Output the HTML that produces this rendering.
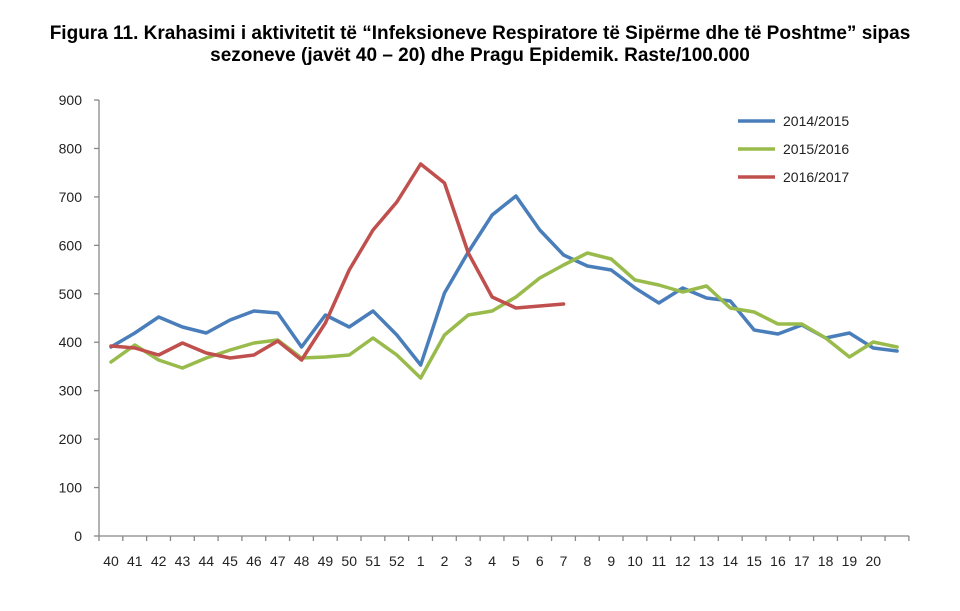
<!DOCTYPE html>
<html><head><meta charset="utf-8"><style>
body{margin:0;background:#fff;width:960px;height:606px;overflow:hidden}
svg text{font-family:"Liberation Sans",sans-serif}
</style></head><body>
<svg width="960" height="606" viewBox="0 0 960 606">
<text x="480" y="39" text-anchor="middle" font-size="19" font-weight="bold" fill="#000">Figura 11. Krahasimi i aktivitetit të “Infeksioneve Respiratore të Sipërme dhe të Poshtme” sipas</text>
<text x="480" y="61" text-anchor="middle" font-size="19" font-weight="bold" fill="#000">sezoneve (javët 40 – 20) dhe Pragu Epidemik.  Raste/100.000</text>
<g stroke="#888" stroke-width="1.3" fill="none">
<line x1="99" y1="100" x2="99" y2="536"/>
<line x1="99" y1="536" x2="909" y2="536"/>
</g>
<g stroke="#888" stroke-width="1.3" id="yt"></g>
<g stroke="#888" stroke-width="1.3" id="xt"></g>
<g font-size="14" fill="#222" text-anchor="end" id="yl"></g>
<g font-size="14" fill="#222" text-anchor="middle" id="xl"></g>
<g fill="none" stroke-width="3.5" stroke-linejoin="round" stroke-linecap="round">
<polyline id="b" stroke="#4a7ebb"/>
<polyline id="g" stroke="#98bb4c"/>
<polyline id="r" stroke="#c0504d"/>
</g>
<g stroke-width="3.5">
<line x1="738" y1="121" x2="775" y2="121" stroke="#4a7ebb"/>
<line x1="738" y1="149" x2="775" y2="149" stroke="#98bb4c"/>
<line x1="738" y1="177" x2="775" y2="177" stroke="#c0504d"/>
</g>
<g font-size="14" fill="#222">
<text x="783" y="126">2014/2015</text>
<text x="783" y="154">2015/2016</text>
<text x="783" y="182">2016/2017</text>
</g>
</svg>
<script>
var NS="http://www.w3.org/2000/svg";
function el(p,t,a,txt){var e=document.createElementNS(NS,t);for(var k in a)e.setAttribute(k,a[k]);if(txt!=null)e.textContent=txt;document.getElementById(p).appendChild(e);}
for(var v=0;v<=900;v+=100){var y=536-v*0.4844;el("yt","line",{x1:94,y1:y,x2:99,y2:y});el("yl","text",{x:82,y:y+5},v);}
var labs=[];for(var i=40;i<=52;i++)labs.push(i);for(i=1;i<=20;i++)labs.push(i);labs.push("");
for(i=0;i<=34;i++){var x=99+23.82*i;el("xt","line",{x1:x,y1:536,x2:x,y2:541});}
for(i=0;i<34;i++){el("xl","text",{x:111+23.82*i,y:566},labs[i]);}
function pts(a){return a.map(function(y,i){return (111+23.82*i)+","+y}).join(" ");}
document.getElementById("b").setAttribute("points",pts([347,333,317,327,333,320,311,313,347,315,327,311,335,365,293,252,215,196,230,255,266,270,288,303,288,298,301,330,334,325,338,333,348,351]));
document.getElementById("g").setAttribute("points",pts([362,345,360,368,358,350,343,340,358,357,355,338,355,378,335,315,311,297,278,265,253,259,280,285,292,286,308,312,324,324,338,357,342,347]));
document.getElementById("r").setAttribute("points",pts([346,348,355,343,353,358,355,341,360,323,270,230,202,164,183,253,297,308,306,304]));
</script>
</body></html>
